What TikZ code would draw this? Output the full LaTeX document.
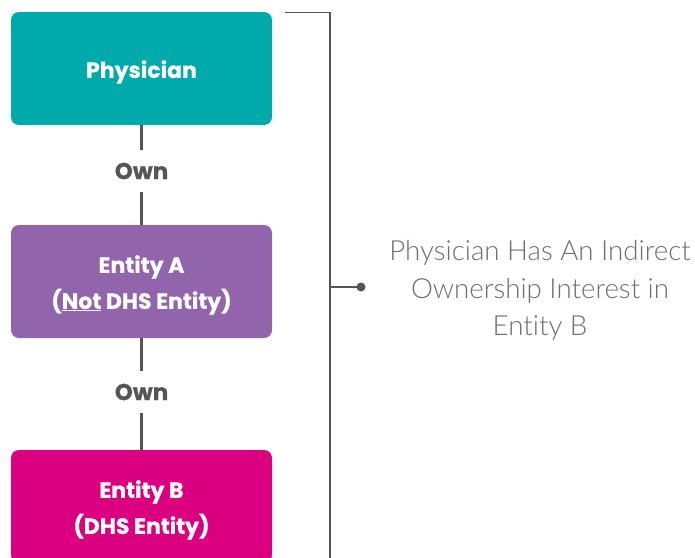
\documentclass[tikz,border=0pt]{standalone}
\usepackage{fontspec}
\setmainfont{Lato}
\newfontfamily\boldfont{Poppins}[UprightFont=* Bold, Ligatures=NoCommon, FakeBold=0.6]
\newfontfamily\lightfont{Lato Light}[Ligatures=NoCommon]
\definecolor{tealbox}{HTML}{00AAAA}
\definecolor{purplebox}{HTML}{9264AB}
\definecolor{magentabox}{HTML}{DB0080}
\definecolor{linegray}{HTML}{555555}
\definecolor{notegray}{HTML}{6E6E6E}
% box caption, set a little below the geometric centre of its box
\newcommand{\boxtext}[1]{\raisebox{-3.5pt}[\height][\depth]{\parbox{250pt}{\centering #1}}}
\begin{document}
\begin{tikzpicture}[x=1pt,y=-1pt,
  entitybox/.style={rounded corners=8pt, minimum width=261pt, minimum height=113pt,
    inner sep=0pt, text=white, font=\boldfont\fontsize{22}{36}\selectfont},
  ownlabel/.style={text=linegray, inner sep=0pt, minimum height=42pt, font=\boldfont\fontsize{23}{25}\selectfont},
  link/.style={draw=linegray, line width=2.2pt},
  bracket/.style={draw=linegray, line width=1.8pt},
  note/.style={text=notegray, align=center, font=\lightfont\fontsize{27.7}{37.5}\selectfont}]
\useasboundingbox (0,0) rectangle (695,557);
\clip (0,0) rectangle (695,557);
\node[entitybox, fill=tealbox] (phys) at (141.5,68.5) {\boxtext{Physician}};
\node[entitybox, fill=purplebox] (enta) at (141.5,281.5) {\boxtext{Entity A\\(\underline{Not} DHS Entity)}};
\node[entitybox, fill=magentabox] (entb) at (141.5,506.5) {\boxtext{Entity B\\(DHS Entity)}};
\node[ownlabel] (own1) at (141.5,171) {Own};
\node[ownlabel] (own2) at (141.5,392) {Own};
\draw[link] (phys.south) -- (own1.north);
\draw[link] (own1.south) -- (enta.north);
\draw[link] (enta.south) -- (own2.north);
\draw[link] (own2.south) -- (entb.north);
% bracket spanning the ownership chain
\coordinate (btop) at (285,12.5);
\coordinate (bcorner) at (330,12.5);
\coordinate (bbottom) at (330,570);
\coordinate (bmid) at (330,287);
\coordinate (bdot) at (361,287);
\draw[bracket] (btop) -- (bcorner) -- (bbottom);
\draw[bracket] (bmid) -- (bdot);
\fill[linegray] (bdot) circle (4.5pt);
\node[note] (notetext) at (540,290.5) {Physician Has An Indirect\\Ownership Interest in\\Entity B};
\end{tikzpicture}
\end{document}
